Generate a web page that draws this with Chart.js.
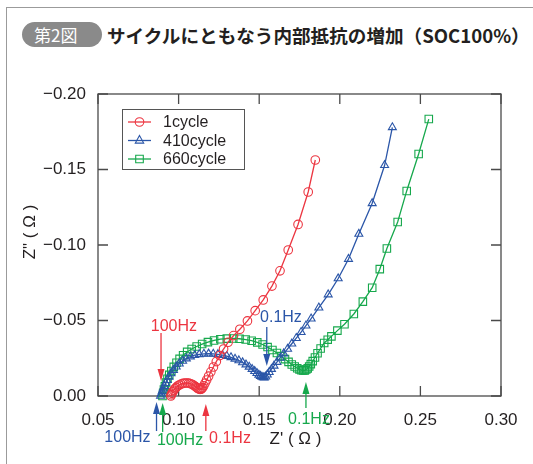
<!DOCTYPE html>
<html lang="ja">
<head>
<meta charset="utf-8">
<title>第2図 サイクルにともなう内部抵抗の増加</title>
<script src="https://cdn.jsdelivr.net/npm/chart.js@4.4.1/dist/chart.umd.min.js"></script>
<style>
  html, body { margin: 0; padding: 0; background: #fff; }
  #fig { position: relative; width: 533px; height: 464px; overflow: hidden; }
  #frame { position: absolute; left: 6px; top: 7px; width: 620px; height: 520px;
           border-left: 1.5px solid #9b9b9b; border-top: 1.5px solid #9b9b9b; }
  #badge { position: absolute; left: 22px; top: 22px; width: 80px; height: 25px; border-radius: 13px;
           background: #8a8a8a; color: #fff; font-family: "Noto Sans CJK JP"; font-size: 17px;
           line-height: 25px; text-indent: 12px; }
  #title { position: absolute; left: 107px; top: 22px; line-height: 25px; white-space: nowrap;
           font-family: "Noto Sans CJK JP"; font-weight: bold; font-size: 18.6px; color: #231f20; }
  #wrap { position: absolute; left: 0; top: 0; width: 533px; height: 464px; }
</style>
</head>
<body>
<div id="fig">
  <div id="frame"></div>
  <div id="badge">第2図</div>
  <div id="title">サイクルにともなう内部抵抗の増加（SOC100%）</div>
  <div id="wrap"><canvas id="nyquist"></canvas></div>
</div>
<script>
// series (Z' と Z'' 、単位 Ω)
const seriesNames = ['1cycle', '410cycle', '660cycle'];

const re1 = [0.0952,0.0955,0.0959,0.0964,0.0970,0.0977,0.0985,0.0994,0.1004,0.1015,0.1027,0.1039,0.1051,0.1063,0.1075,0.1086,0.1096,0.1105,0.1113,0.1120,0.1127,0.1133,0.1139,0.1144,0.1149,0.1156,0.1164,0.1174,0.1186,0.1200,0.1216,0.1234,0.1255,0.1279,0.1307,0.1341,0.1380,0.1427,0.1475,0.1525,0.1579,0.1629,0.1680,0.1741,0.1804,0.1848];
const im1 = [0,-0.0009,-0.0018,-0.0028,-0.0038,-0.0048,-0.0057,-0.0066,-0.0073,-0.0079,-0.0083,-0.0086,-0.0086,-0.0085,-0.0081,-0.0076,-0.0069,-0.0062,-0.0055,-0.0050,-0.0046,-0.0044,-0.0045,-0.0049,-0.0055,-0.0068,-0.0085,-0.0106,-0.0131,-0.0160,-0.0192,-0.0228,-0.0268,-0.0311,-0.0356,-0.0400,-0.0442,-0.0497,-0.0565,-0.0636,-0.0728,-0.0829,-0.0967,-0.1136,-0.1351,-0.1563];

const re410 = [0.0888,0.0893,0.0898,0.0904,0.0911,0.0919,0.0929,0.0940,0.0953,0.0968,0.0985,0.1004,0.1025,0.1048,0.1073,0.1100,0.1128,0.1157,0.1186,0.1215,0.1244,0.1272,0.1299,0.1325,0.1350,0.1374,0.1397,0.1418,0.1438,0.1456,0.1472,0.1486,0.1498,0.1508,0.1517,0.1525,0.1532,0.1540,0.1550,0.1562,0.1576,0.1592,0.1610,0.1630,0.1652,0.1676,0.1702,0.1730,0.1760,0.1790,0.1822,0.1870,0.1928,0.1990,0.2054,0.2118,0.2201,0.2278,0.2326];
const im410 = [0,-0.0015,-0.0031,-0.0048,-0.0066,-0.0085,-0.0105,-0.0127,-0.0149,-0.0172,-0.0194,-0.0214,-0.0232,-0.0248,-0.0261,-0.0270,-0.0276,-0.0279,-0.0280,-0.0279,-0.0276,-0.0271,-0.0264,-0.0256,-0.0246,-0.0235,-0.0222,-0.0208,-0.0193,-0.0178,-0.0164,-0.0151,-0.0140,-0.0132,-0.0126,-0.0123,-0.0122,-0.0128,-0.0141,-0.0158,-0.0178,-0.0200,-0.0225,-0.0252,-0.0281,-0.0312,-0.0346,-0.0383,-0.0423,-0.0466,-0.0512,-0.0585,-0.0672,-0.0778,-0.0907,-0.1073,-0.1276,-0.1528,-0.1779];

const re660 = [0.0900,0.0904,0.0909,0.0915,0.0922,0.0931,0.0942,0.0955,0.0970,0.0987,0.1006,0.1028,0.1053,0.1081,0.1112,0.1146,0.1182,0.1220,0.1259,0.1299,0.1339,0.1378,0.1416,0.1453,0.1488,0.1521,0.1552,0.1582,0.1610,0.1636,0.1660,0.1682,0.1702,0.1720,0.1736,0.1750,0.1762,0.1773,0.1783,0.1792,0.1801,0.1810,0.1820,0.1832,0.1846,0.1862,0.1881,0.1903,0.1925,0.1948,0.1985,0.2029,0.2087,0.2143,0.2201,0.2248,0.2292,0.2359,0.2415,0.2489,0.2552];
const im660 = [0,-0.0020,-0.0042,-0.0065,-0.0089,-0.0114,-0.0140,-0.0166,-0.0193,-0.0220,-0.0246,-0.0270,-0.0292,-0.0311,-0.0328,-0.0344,-0.0357,-0.0368,-0.0376,-0.0380,-0.0381,-0.0379,-0.0374,-0.0366,-0.0355,-0.0341,-0.0324,-0.0305,-0.0285,-0.0264,-0.0244,-0.0226,-0.0209,-0.0195,-0.0184,-0.0176,-0.0171,-0.0169,-0.0170,-0.0175,-0.0183,-0.0195,-0.0211,-0.0231,-0.0255,-0.0283,-0.0315,-0.0351,-0.0373,-0.0395,-0.0433,-0.0475,-0.0543,-0.0625,-0.0717,-0.0840,-0.0977,-0.1152,-0.1358,-0.1603,-0.1834];

const xTicks = [0.05, 0.10, 0.15, 0.20, 0.25, 0.30];
const yTicks = [-0.20, -0.15, -0.10, -0.05, 0.00];

const cRed = '#ec3540', cBlue = '#2b56a8', cGreen = '#16a84c';
const ink = '#231f20';
const fontLatin = '"Liberation Sans", Arial, sans-serif';

// 周波数の注記 (矢印 x、矢印の根元/先端 y、文字の中心)
const hzNotes = [
  { text: '100Hz', color: cRed,   ax: 0.0891, tail: -0.0417, tip: -0.0099, tx: 0.0971, ty: -0.0457 },
  { text: '0.1Hz', color: cBlue,  ax: 0.1547, tail: -0.0457, tip: -0.0199, tx: 0.1635, ty: -0.0517 },
  { text: '100Hz', color: cBlue,  ax: 0.0863, tail: 0.0232,  tip: 0.0040,  tx: 0.0683, ty: 0.0278 },
  { text: '100Hz', color: cGreen, ax: 0.0901, tail: 0.0238,  tip: 0.0046,  tx: 0.1009, ty: 0.0298 },
  { text: '0.1Hz', color: cRed,   ax: 0.1169, tail: 0.0232,  tip: 0.0053,  tx: 0.1319, ty: 0.0285 },
  { text: '0.1Hz', color: cGreen, ax: 0.1790, tail: 0.0079,  tip: -0.0093, tx: 0.1809, ty: 0.0159 }
];

function pts(re, im) {
  return re.map((v, i) => ({ x: v, y: im[i] }));
}

function serie(label, re, im, color, style, r) {
  return {
    label: label,
    data: pts(re, im),
    borderColor: color,
    backgroundColor: 'rgba(255,255,255,0)',
    borderWidth: 1.3,
    pointStyle: style,
    pointRadius: r,
    pointBorderWidth: 1.1,
    pointBorderColor: color,
    pointBackgroundColor: 'rgba(255,255,255,0)',
    tension: 0,
    clip: false
  };
}

function marker(ctx, style, x, y) {
  ctx.beginPath();
  if (style === 'circle') {
    ctx.arc(x, y, 4.3, 0, Math.PI * 2);
  } else if (style === 'triangle') {
    ctx.moveTo(x, y - 5);
    ctx.lineTo(x + 4.2, y + 2.6);
    ctx.lineTo(x - 4.2, y + 2.6);
    ctx.closePath();
  } else {
    ctx.rect(x - 3.8, y - 3.8, 7.6, 7.6);
  }
  ctx.stroke();
}

const deco = {
  id: 'deco',
  beforeDatasetsDraw(chart) {
    const { ctx, chartArea: a, scales: { x, y } } = chart;
    ctx.save();
    ctx.strokeStyle = '#4a4a4a';
    ctx.lineWidth = 1.3;
    ctx.strokeRect(a.left, a.top, a.right - a.left, a.bottom - a.top);
    // 内向きの目盛り (4辺)
    ctx.beginPath();
    xTicks.forEach(v => {
      const p = x.getPixelForValue(v);
      ctx.moveTo(p, a.bottom); ctx.lineTo(p, a.bottom - 10);
      ctx.moveTo(p, a.top); ctx.lineTo(p, a.top + 10);
    });
    yTicks.forEach(v => {
      const p = y.getPixelForValue(v);
      ctx.moveTo(a.left, p); ctx.lineTo(a.left + 10, p);
      ctx.moveTo(a.right, p); ctx.lineTo(a.right - 10, p);
    });
    ctx.stroke();

    // 軸タイトル
    ctx.fillStyle = ink;
    ctx.font = '17px ' + fontLatin;
    ctx.textAlign = 'center';
    ctx.textBaseline = 'middle';
    ctx.fillText("Z' ( \u03A9 )", (a.left + a.right) / 2 - 4, a.bottom + 43);
    ctx.save();
    ctx.translate(a.left - 68, (a.top + a.bottom) / 2 - 13);
    ctx.rotate(-Math.PI / 2);
    ctx.fillText('Z" ( \u03A9 )', 0, 0);
    ctx.restore();
    ctx.restore();
  },
  afterDatasetsDraw(chart) {
    const { ctx, chartArea: a, scales: { x, y } } = chart;
    ctx.save();

    // 凡例
    const lx = a.left + 24, ly = a.top + 15;
    ctx.fillStyle = '#fff';
    ctx.fillRect(lx, ly, 122, 60);
    ctx.strokeStyle = '#555';
    ctx.lineWidth = 1;
    ctx.strokeRect(lx + 0.5, ly + 0.5, 122, 60);
    ctx.font = '16px ' + fontLatin;
    ctx.textAlign = 'left';
    ctx.textBaseline = 'middle';
    chart.data.datasets.forEach((ds, i) => {
      const yy = ly + 13 + i * 18.5;
      ctx.strokeStyle = ds.borderColor;
      ctx.lineWidth = 1.3;
      ctx.beginPath();
      ctx.moveTo(lx + 6, yy); ctx.lineTo(lx + 29, yy);
      ctx.stroke();
      ctx.lineWidth = 1.1;
      marker(ctx, ds.pointStyle, lx + 17.5, yy);
      ctx.fillStyle = ink;
      ctx.fillText(ds.label, lx + 41, yy + 1);
    });

    // 周波数の矢印と文字
    hzNotes.forEach(n => {
      const px = x.getPixelForValue(n.ax);
      const p0 = y.getPixelForValue(n.tail);
      const p1 = y.getPixelForValue(n.tip);
      const dir = p1 > p0 ? 1 : -1;
      ctx.strokeStyle = n.color;
      ctx.fillStyle = n.color;
      ctx.lineWidth = 1.3;
      ctx.beginPath();
      ctx.moveTo(px, p0);
      ctx.lineTo(px, p1 - dir * 8);
      ctx.stroke();
      ctx.beginPath();
      ctx.moveTo(px, p1);
      ctx.lineTo(px - 3.5, p1 - dir * 12);
      ctx.lineTo(px + 3.5, p1 - dir * 12);
      ctx.closePath();
      ctx.fill();
      ctx.font = '16px ' + fontLatin;
      ctx.textAlign = 'center';
      ctx.textBaseline = 'middle';
      ctx.fillText(n.text, x.getPixelForValue(n.tx), y.getPixelForValue(n.ty));
    });
    ctx.restore();
  }
};

new Chart(document.getElementById('nyquist'), {
  type: 'line',
  data: {
    datasets: [
      serie(seriesNames[0], re1, im1, cRed, 'circle', 4.3),
      serie(seriesNames[1], re410, im410, cBlue, 'triangle', 4.6),
      serie(seriesNames[2], re660, im660, cGreen, 'rect', 5.3)
    ]
  },
  options: {
    responsive: true,
    maintainAspectRatio: false,
    devicePixelRatio: 1,
    animation: false,
    layout: { padding: { left: 0, right: 32, top: 94, bottom: 0 } },
    plugins: { legend: { display: false }, tooltip: { enabled: false } },
    scales: {
      x: {
        type: 'linear',
        min: 0.05,
        max: 0.30,
        afterBuildTicks: s => { s.ticks = xTicks.map(v => ({ value: v })); },
        afterFit: s => { s.height = 68; },
        grid: { display: false },
        border: { display: false },
        ticks: {
          padding: 6,
          color: ink,
          font: { family: fontLatin, size: 17 },
          callback: v => Number(v).toFixed(2)
        }
      },
      y: {
        type: 'linear',
        reverse: true,
        min: -0.20,
        max: 0,
        afterBuildTicks: s => { s.ticks = yTicks.map(v => ({ value: v })); },
        afterFit: s => { s.width = 98; },
        grid: { display: false },
        border: { display: false },
        ticks: {
          padding: 4,
          color: ink,
          font: { family: fontLatin, size: 17 },
          callback: v => (Math.abs(v) < 1e-9 ? '0.00' : '\u2212' + Math.abs(v).toFixed(2))
        }
      }
    }
  },
  plugins: [deco]
});
</script>
</body>
</html>
